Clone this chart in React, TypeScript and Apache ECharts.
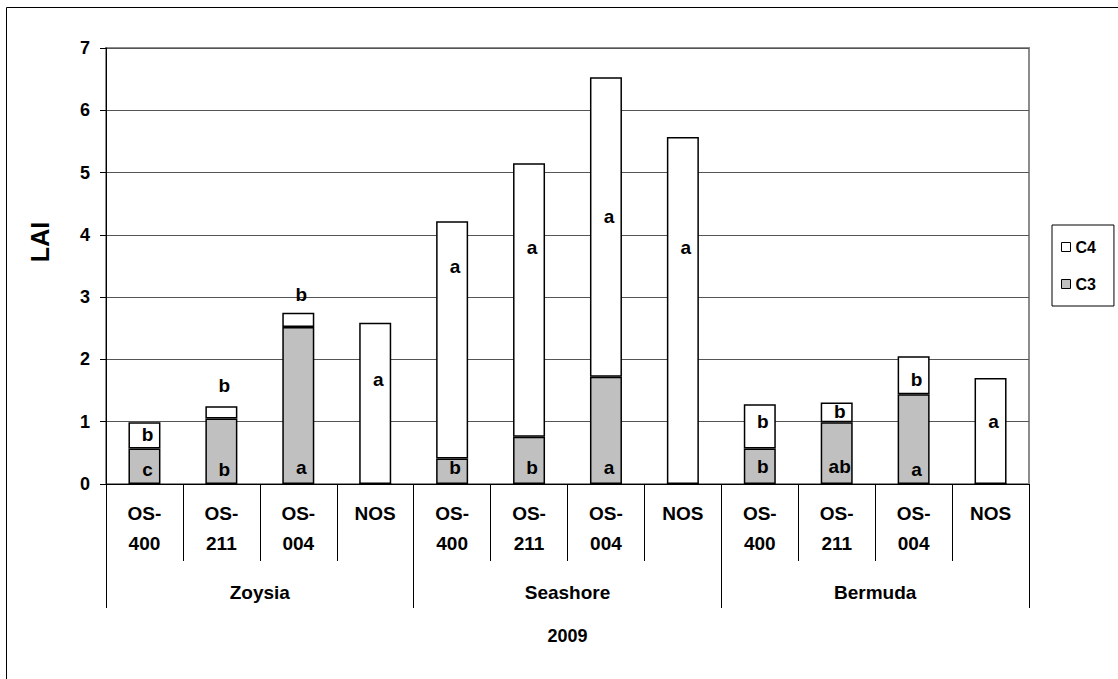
import React, { useEffect, useRef } from "react";
import * as echarts from "echarts";

const grasses = ["Zoysia", "Seashore", "Bermuda"];
const treatments = ["OS-400", "OS-211", "OS-004", "NOS"];
const yearLabel = "2009";
const yAxisTitle = "LAI";

// LAI components, order: Zoysia x4, Seashore x4, Bermuda x4
const c3Values = [0.57, 1.05, 2.52, 0, 0.41, 0.76, 1.72, 0, 0.57, 0.99, 1.44, 0];
const c4Values = [0.42, 0.2, 0.23, 2.59, 3.81, 4.39, 4.81, 5.57, 0.71, 0.32, 0.61, 1.7];

// significance letters
const c3Letters = ["c", "b", "a", "", "b", "b", "a", "", "b", "ab", "a", ""];
const c4Letters = ["b", "b", "b", "a", "a", "a", "a", "a", "b", "b", "b", "a"];
// y value where each letter sits
const c3LetterAt = [0.23, 0.23, 0.27, 0, 0.27, 0.27, 0.27, 0, 0.28, 0.28, 0.24, 0];
const c4LetterAt = [0.79, 1.58, 3.04, 1.67, 3.49, 3.8, 4.3, 3.8, 1.0, 1.16, 1.67, 1.0];

const categories = grasses.flatMap(() => treatments);
const FONT = 'Arial, "Liberation Sans", sans-serif';

export default function App() {
  const ref = useRef<HTMLDivElement>(null);
  useEffect(() => {
    if (!ref.current) return;
    const chart = echarts.init(ref.current, undefined, { renderer: "svg" });
    const letterSeries = (name: string, at: number[], letters: string[]) => ({
      name,
      type: "scatter",
      xAxisIndex: 0,
      symbolSize: 0,
      z: 10,
      silent: true,
      itemStyle: { color: "#000", opacity: 1 },
      data: at
        .map((y, i) => (letters[i] ? { value: [i, y], letter: letters[i] } : null))
        .filter((d) => d !== null),
      label: {
        show: true,
        position: "inside",
        offset: [3, 0],
        formatter: (p: any) => p.data.letter,
        fontFamily: FONT,
        fontWeight: "bold",
        fontSize: 19,
        color: "#000",
        opacity: 1,
        textBorderWidth: 0,
      },
    });
    chart.setOption({
      animation: false,
      backgroundColor: "#fff",
      textStyle: { fontFamily: FONT },
      grid: {
        left: 106,
        right: 89,
        top: 48,
        bottom: 195,
        show: true,
        borderColor: "#8c8c8c",
        borderWidth: 2,
        backgroundColor: "#fff",
      },
      legend: {
        data: ["C4", "C3"],
        orient: "vertical",
        left: 1052,
        top: 225,
        padding: [14, 18, 14, 9],
        itemGap: 21,
        itemWidth: 9,
        itemHeight: 9,
        itemTextGap: 4,
        icon: "rect",
        borderColor: "#000",
        borderWidth: 1,
        itemStyle: { borderColor: "#000", borderWidth: 1 },
        textStyle: { fontFamily: FONT, fontWeight: "bold", fontSize: 16, color: "#000", lineHeight: 16 },
      },
      xAxis: [
        {
          type: "category",
          data: categories,
          position: "bottom",
          axisLine: { show: true, lineStyle: { color: "#000", width: 1 } },
          axisTick: { show: true, interval: 0, length: 77, lineStyle: { color: "#000", width: 1 } },
          axisLabel: {
            interval: 0,
            margin: 14,
            formatter: (v: string) => v.replace("-", "-\n"),
            fontFamily: FONT,
            fontWeight: "bold",
            fontSize: 19,
            lineHeight: 30,
            color: "#000",
          },
        },
        {
          type: "category",
          data: grasses,
          position: "bottom",
          offset: 0,
          axisLine: { show: false },
          axisTick: { show: true, interval: 0, length: 124, lineStyle: { color: "#000", width: 1 } },
          axisLabel: {
            interval: 0,
            margin: 96,
            fontFamily: FONT,
            fontWeight: "bold",
            fontSize: 19,
            lineHeight: 24,
            color: "#000",
          },
          name: yearLabel,
          nameLocation: "middle",
          nameGap: 143,
          nameTextStyle: { fontFamily: FONT, fontWeight: "bold", fontSize: 18, color: "#000" },
        },
      ],
      yAxis: {
        type: "value",
        min: 0,
        max: 7,
        interval: 1,
        axisLine: { show: true, lineStyle: { color: "#000", width: 1 } },
        axisTick: { show: true, length: 6, lineStyle: { color: "#000" } },
        axisLabel: { margin: 16, fontFamily: FONT, fontWeight: "bold", fontSize: 18, color: "#000" },
        splitLine: { show: true, lineStyle: { color: "#555", width: 1 } },
      },
      graphic: [
        {
          type: "rect",
          shape: { x: 6.5, y: 7.5, width: 2000, height: 2000 },
          style: { fill: "none", stroke: "#000", lineWidth: 1 },
          z: -10,
          silent: true,
        },
        {
          type: "text",
          x: 40,
          y: 242,
          rotation: Math.PI / 2,
          style: {
            text: yAxisTitle,
            fontFamily: FONT,
            fontWeight: "bold",
            fontSize: 25,
            fill: "#000",
            textAlign: "center",
            textVerticalAlign: "middle",
          },
        },
      ],
      series: [
        {
          name: "C3",
          type: "bar",
          stack: "lai",
          barWidth: 32,
          data: c3Values,
          itemStyle: { color: "#c0c0c0", borderColor: "#000", borderWidth: 1.5 },
          silent: true,
        },
        {
          name: "C4",
          type: "bar",
          stack: "lai",
          barWidth: 32,
          data: c4Values,
          itemStyle: { color: "#fff", borderColor: "#000", borderWidth: 1.5 },
          silent: true,
        },
        letterSeries("c3letters", c3LetterAt, c3Letters),
        letterSeries("c4letters", c4LetterAt, c4Letters),
      ],
    });
    return () => chart.dispose();
  }, []);
  return (
    <div
      ref={ref}
      style={{ position: "absolute", left: 0, top: 0, width: 1118, height: 679 }}
    />
  );
}
